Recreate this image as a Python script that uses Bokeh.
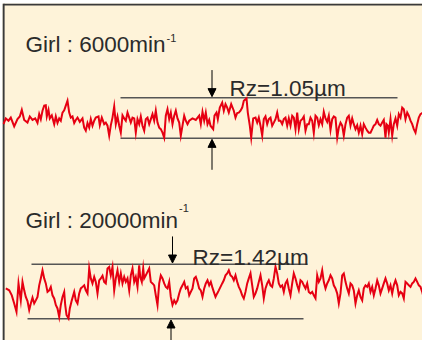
from bokeh.plotting import figure
from bokeh.models import Range1d, Label, Arrow, NormalHead
from bokeh.embed import file_html
from bokeh.resources import INLINE

# ---------------- data (profile heights in µm, positions along the trace) ----------------
p1_x = [0, 2.3, 5, 7.3, 10.7, 14, 16.3, 18.3, 20.7, 24,
        26.3, 29, 31.7, 34, 35.7, 37.3, 39, 40.7, 42.3, 43.3,
        45, 46.3, 48.3, 50.7, 52.3, 54, 55.7, 57.3, 59, 60.7,
        62.3, 64, 65.7, 67.3, 69, 70.7, 72.3, 74, 76.3, 79,
        80.7, 82.3, 84, 85.7, 87.3, 89, 90.7, 92.3, 95, 96.3,
        98.3, 100.7, 102.3, 104, 105.7, 107.3, 109, 110.7, 112.3, 114,
        115.7, 117.3, 119, 120.7, 122.3, 124, 125.7, 127.3, 129, 130.7,
        132.3, 134, 135.7, 137.3, 139, 140.7, 142.3, 144, 145.7, 149,
        150.7, 152.3, 154, 155.7, 157.3, 159, 160.7, 162.3, 164, 165.7,
        167.3, 169, 170.7, 172.3, 174, 175.7, 177.3, 179, 180.7, 182.3,
        184, 185.7, 189, 192.3, 195.7, 197.3, 199, 200.7, 202.3, 204, 205.7,
        207, 209.7, 211, 213, 214.3, 216.3, 218.7, 220.3, 222, 223.7,
        225.3, 227.7, 230.3, 232, 233.7, 235.3, 237, 238.7, 240.3, 243,
        244.3, 246.3, 247.7, 249.7, 252, 253.7, 255.3, 257, 258.7, 260.3,
        262, 263.7, 265.3, 267, 268.7, 270.3, 272, 273.7, 275.3, 277,
        278.7, 280.3, 282, 283.7, 285.3, 287, 288.7, 290.3, 292, 293.7,
        295.3, 297, 298.7, 300.3, 302, 303.7, 305.3, 307, 308.7, 310.3,
        312, 313.7, 315.3, 317, 318.7, 320.3, 322, 323.7, 325.3, 327,
        328.7, 330.3, 332, 333.7, 335.3, 337, 338.7, 340.3, 342, 343.7,
        345.3, 347, 348.7, 350.3, 352, 353.7, 355.3, 357, 358.7, 360.3,
        362, 363.7, 365.3, 367, 368.7, 370.3, 372, 373.7, 375.3, 377,
        378.7, 380.3, 382, 383, 384.3, 385.3, 387, 388.7, 390.3, 392,
        393.7, 395.3, 397, 398.7, 400.3, 402, 403.7, 405.3, 407, 408.7,
        410.3, 412, 413.7, 415.3, 417, 418.7, 420.3, 422, 423.7, 425.3, 426.3, 427]
p1_h = [-0.16, -0.01, -0.07, 0.01, -0.22, -0.03, 0.04, 0.21, -0.05, -0.12,
        0.04, -0.05, -0.01, -0.13, 0.10, -0.03, 0.19, 0.32, 0.33, 0.04,
        0.21, -0.01, 0.07, -0.16, 0.04, -0.13, -0.01, -0.07, 0.14, 0.20,
        0.32, 0.45, 0.14, 0.01, 0.04, -0.13, -0.05, 0.01, -0.10, -0.01,
        -0.25, -0.33, -0.13, -0.25, -0.03, -0.20, -0.07, 0.01, 0.04, -0.19,
        0.01, -0.16, -0.12, -0.20, -0.46, -0.19, 0.01, 0.30, -0.16, 0.04,
        -0.20, -0.38, 0.07, -0.01, -0.07, 0.14, 0.01, -0.12, 0.01, -0.01,
        -0.38, -0.03, -0.16, 0.04, -0.20, -0.33, -0.03, 0.01, -0.16, 0.10,
        -0.07, 0.19, -0.12, -0.25, -0.29, -0.38, -0.51, 0.06, 0.23, -0.03,
        0.14, -0.16, 0.06, 0.19, -0.01, -0.12, -0.46, -0.20, 0.06, -0.07,
        -0.16, -0.07, -0.01, -0.05, 0.06, -0.16, 0.16, -0.07, 0.14, -0.16, -0.05,
        -0.20, -0.29, 0.06, 0.14, -0.03, 0.27, 0.40, 0.19, 0.36, 0.27,
        0.14, 0.36, 0.19, 0.01, 0.13, 0.14, 0.19, 0.27, 0.45, 0.51,
        0.14, -0.20, -0.51, -0.01, 0.01, -0.12, 0.01, -0.20, -0.46, -0.03,
        0.04, -0.16, -0.03, 0.01, -0.20, -0.12, -0.03, 0.14, -0.07, -0.07,
        -0.16, -0.03, 0.01, -0.20, -0.01, -0.20, 0.06, 0.01, -0.29, 0.14,
        -0.29, -0.07, -0.03, 0.04, -0.33, -0.16, -0.16, 0.01, -0.07, -0.39,
        0.06, 0.01, -0.19, -0.03, -0.16, 0.16, -0.01, -0.10, 0.06, -0.31,
        -0.03, 0.04, 0.01, -0.51, -0.25, -0.12, -0.20, -0.46, -0.16, 0.01,
        0.06, -0.20, -0.01, -0.16, -0.29, -0.19, -0.38, -0.20, -0.42, -0.16,
        -0.25, -0.33, -0.38, -0.38, -0.29, -0.20, -0.16, -0.05, -0.16, -0.20,
        -0.12, -0.05, -0.51, -0.16, -0.20, -0.38, -0.03, -0.46, -0.16, -0.01,
        -0.20, 0.10, 0.01, 0.27, 0.23, -0.03, 0.14, 0.06, -0.07, -0.16,
        -0.29, -0.38, -0.16, 0.01, 0.10, 0.13, 0.06, -0.01, -0.16, -0.42, -0.16, 0.10]

p2_x = [2.3, 5.7, 8.3, 10.7, 13, 15, 17.3, 19, 20.7, 22.3,
        24, 25.7, 27.3, 29, 30.7, 32.3, 34, 35.7, 37.3, 39,
        40.7, 42.3, 44, 45.7, 47.3, 49, 50.7, 52.3, 54, 55.7,
        57.3, 59, 60.7, 61.7, 63, 65, 66.3, 68.3, 70.7, 72.3,
        74, 75.7, 77.3, 79, 80.7, 82.3, 84, 85.7, 87.3, 89,
        90.7, 92.3, 94, 95.7, 97.3, 99, 100.7, 102.3, 104, 105.7,
        107.3, 109, 110.7, 112.3, 114, 115.7, 117.3, 119, 120.7, 122.3,
        124, 125.7, 127.3, 129, 130.7, 132.3, 134, 135.7, 136.7, 138.3,
        139.7, 140.7, 142.3, 144, 145.7, 147.3, 149, 150.7, 152.3, 154,
        155.7, 157.3, 159, 160.7, 162.3, 164, 165.7, 167.3, 169, 170.7,
        172.3, 174, 175.7, 177.3, 179, 180.7, 182.3, 184, 185.7, 187.3,
        189, 190.7, 192.3, 194, 195.7, 197.3, 199, 200.7, 202.3, 204,
        205.7, 207.3,
        208.7, 210.3, 212, 213.7, 215.3, 217, 218.7, 220.3, 222, 223.7,
        225.3, 227, 228.7, 230.3, 232, 233.7, 235.3, 237, 238.7, 240.3,
        242, 243.7, 245.3, 247, 248.7, 250.3, 252, 253.7, 255.3, 257,
        258.7, 260.3, 262, 263.7, 265.3, 267, 268.7, 270.3, 272, 273.7,
        275.3, 277, 278.7, 280.3, 282, 283.7, 285.3, 287, 288.7, 290.3,
        292, 293.7, 295.3, 297, 298.7, 300.3, 302, 303.7, 305.3, 307,
        308.7, 310.3, 312, 313.7, 315.3, 317, 318.7, 320.3, 322, 323.7,
        325.3, 327, 328.7, 330.3, 332, 333.7, 335.3, 337, 338.7, 340.3,
        342, 343.7, 345.3, 347, 348.7, 350.3, 352, 353.7, 355.3, 357,
        358.7, 360.3, 362, 363.7, 365.3, 367, 368.7, 370.3, 372, 373.7,
        375.3, 377, 378.7, 380.3, 382, 383.7, 385.3, 387, 388.7, 390.3,
        392, 393.7, 395.3, 397, 398.7, 400.3, 402, 403.7, 405.3, 407,
        408.7, 410.3, 412, 413.7, 415.3, 417, 418.7, 420.3, 422, 423.7,
        425.3, 427]
p2_h = [0.08, 0.03, -0.10, -0.31, -0.53, 0.21, -0.23, 0.25, 0.03, -0.14,
        -0.25, -0.48, -0.31, -0.16, -0.31, -0.23, -0.14, 0.16, 0.34, 0.55,
        0.34, 0.21, -0.01, 0.03, 0.12, -0.10, -0.18, -0.35, -0.44, -0.66,
        -0.35, -0.14, -0.01, -0.35, -0.61, -0.70, -0.44, -0.23, -0.01, -0.23,
        -0.31, -0.05, 0.08, 0.12, 0.16, 0.03, -0.05, 0.60, 0.34, 0.21,
        0.38, 0.25, -0.05, 0.29, 0.34, 0.41, 0.25, 0.21, 0.60, 0.64,
        0.42, 0.64, 0.03, 0.34, 0.55, 0.25, 0.47, 0.21, 0.38, 0.25,
        0.34, 0.03, 0.42, 0.60, 0.25, 0.38, 0.12, 0.68, 0.38, 0.25,
        0.60, 0.34, 0.42, 0.51, 0.60, 0.25, 0.21, 0.16, -0.10, -0.35,
        0.21, 0.42, 0.34, 0.21, 0.12, 0.08, 0.25, -0.14, -0.35, -0.23,
        -0.31, -0.23, -0.05, 0.08, 0.16, 0.25, 0.08, 0.12, -0.10, -0.01,
        0.08, 0.34, 0.38, 0.25, 0.08, 0.03, -0.14, 0.08, 0.21, 0.29,
        0.16, 0.25,
        0.12, -0.01, -0.14, -0.05, 0.03, 0.12, 0.21, 0.29, 0.42, 0.47,
        0.55, 0.42, 0.38, 0.29, 0.42, 0.25, 0.12, 0.03, -0.10, -0.18,
        -0.01, 0.21, 0.34, 0.47, 0.16, -0.14, -0.05, 0.08, 0.25, 0.42,
        0.16, -0.18, 0.08, 0.21, 0.29, 0.16, 0.12, 0.34, 0.64, 0.47,
        0.21, 0.12, 0.16, -0.01, 0.21, 0.29, 0.08, -0.10, 0.21, 0.47,
        0.34, 0.16, 0.03, 0.29, 0.25, 0.16, 0.08, 0.21, -0.01, -0.05,
        -0.01, -0.10, -0.18, 0.42, 0.25, 0.34, 0.55, 0.25, 0.08, 0.21,
        0.29, 0.42, 0.34, 0.16, 0.08, -0.05, -0.31, -0.05, 0.42, 0.47,
        0.25, 0.08, -0.05, 0.21, 0.16, 0.03, -0.31, -0.10, 0.03, -0.14,
        -0.23, 0.08, 0.16, 0.12, 0.21, -0.01, 0.12, -0.10, 0.08, 0.29,
        0.16, -0.05, 0.08, 0.21, 0.34, 0.21, 0.03, 0.16, -0.05, 0.16,
        0.29, 0.16, -0.10, -0.01, -0.05, -0.18, 0.25, 0.21, 0.16, 0.12,
        0.21, 0.25, 0.34, 0.25, 0.16, 0.12, -0.01, -0.18, 0.12, 0.16,
        0.25, 0.42]

titles = ["Girl : 6000min", "Girl : 20000min"]
title_sup = "-1"
rz_values = [1.05, 1.42]
rz_labels = ["Rz=1.05µm", "Rz=1.42µm"]

# reference-line extents along the trace for each profile (start, end)
rz_upper_span = [(117, 394), (28, 304)]
rz_lower_span = [(117, 394), (24, 300)]
arrow_pos = [(208.5, 208.5), (169, 167.5)]   # (down arrow x, up arrow x)

# ---------------- layout ----------------
PX_PER_UM = 38.5


def Y(page_y):
    """vertical page position (px from window top) -> µm coordinate"""
    return -(page_y - 12) / PX_PER_UM


def X(page_x):
    return page_x - 11


bases = [Y(125.5), Y(299)]

CREAM = "#FEF3D9"
RED = "#E60012"
TXT = "#2b2b2b"
REF = "#555555"
BORDER = "#3a3a3a"
FONT = "Liberation Sans"

# figure placed at page (8, 8); frame from page x 10 .. 430, y 11 .. 348
p = figure(width=422, height=340, output_backend="svg", toolbar_location=None,
           x_axis_type=None, y_axis_type=None,
           x_range=Range1d(X(10), X(430)), y_range=Range1d(Y(348), Y(11)))
p.min_border = 0
p.min_border_left = 2
p.min_border_top = 3
p.min_border_right = 0
p.min_border_bottom = 0
p.outline_line_color = None
p.background_fill_color = CREAM
p.border_fill_color = "white"
p.grid.visible = False

# panel borders (left and top only)
p.segment(x0=[X(11), X(11)], y0=[Y(11), Y(12)], x1=[X(11), X(440)], y1=[Y(360), Y(12)],
          line_color=BORDER, line_width=2.2)

profiles = [(p1_x, p1_h), (p2_x, p2_h)]
for i, (xs, hs) in enumerate(profiles):
    base = bases[i]
    rz = rz_values[i]
    top = base + rz / 2
    bot = base - rz / 2
    # reference lines
    p.segment(x0=[rz_upper_span[i][0], rz_lower_span[i][0]],
              x1=[rz_upper_span[i][1], rz_lower_span[i][1]],
              y0=[top, bot], y1=[top, bot], line_color=REF, line_width=1.5)
    # profile
    p.line(xs, [base + h for h in hs], line_color=RED, line_width=2, line_join="miter")
    # arrows
    alen = 0.72
    ax_down, ax_up = arrow_pos[i]
    p.add_layout(Arrow(end=NormalHead(size=8, fill_color="black", line_color="black"),
                       x_start=ax_down, y_start=top + alen, x_end=ax_down, y_end=top + 0.03,
                       line_color="black", line_width=1))
    p.add_layout(Arrow(end=NormalHead(size=8, fill_color="black", line_color="black"),
                       x_start=ax_up, y_start=bot - alen - 0.1, x_end=ax_up, y_end=bot - 0.03,
                       line_color="black", line_width=1))

# texts
title_pos = [(X(33), Y(52.3)), (X(33), Y(227.5))]
sup_pos = [(X(174), Y(45.5)), (X(186.5), Y(215.5))]
rz_pos = [(X(237), Y(95.7)), (X(200), Y(265.2))]
for i in range(2):
    p.add_layout(Label(x=title_pos[i][0], y=title_pos[i][1], text=titles[i],
                       text_font=FONT, text_font_size="22.5px", text_color=TXT,
                       text_baseline="alphabetic"))
    p.add_layout(Label(x=sup_pos[i][0], y=sup_pos[i][1], text=title_sup,
                       text_font=FONT, text_font_size="11px", text_color=TXT,
                       text_baseline="alphabetic"))
    p.add_layout(Label(x=rz_pos[i][0], y=rz_pos[i][1], text=rz_labels[i],
                       text_font=FONT, text_font_size="22.5px", text_color=TXT,
                       text_baseline="alphabetic"))

open("out.html", "w").write(file_html(p, INLINE))
